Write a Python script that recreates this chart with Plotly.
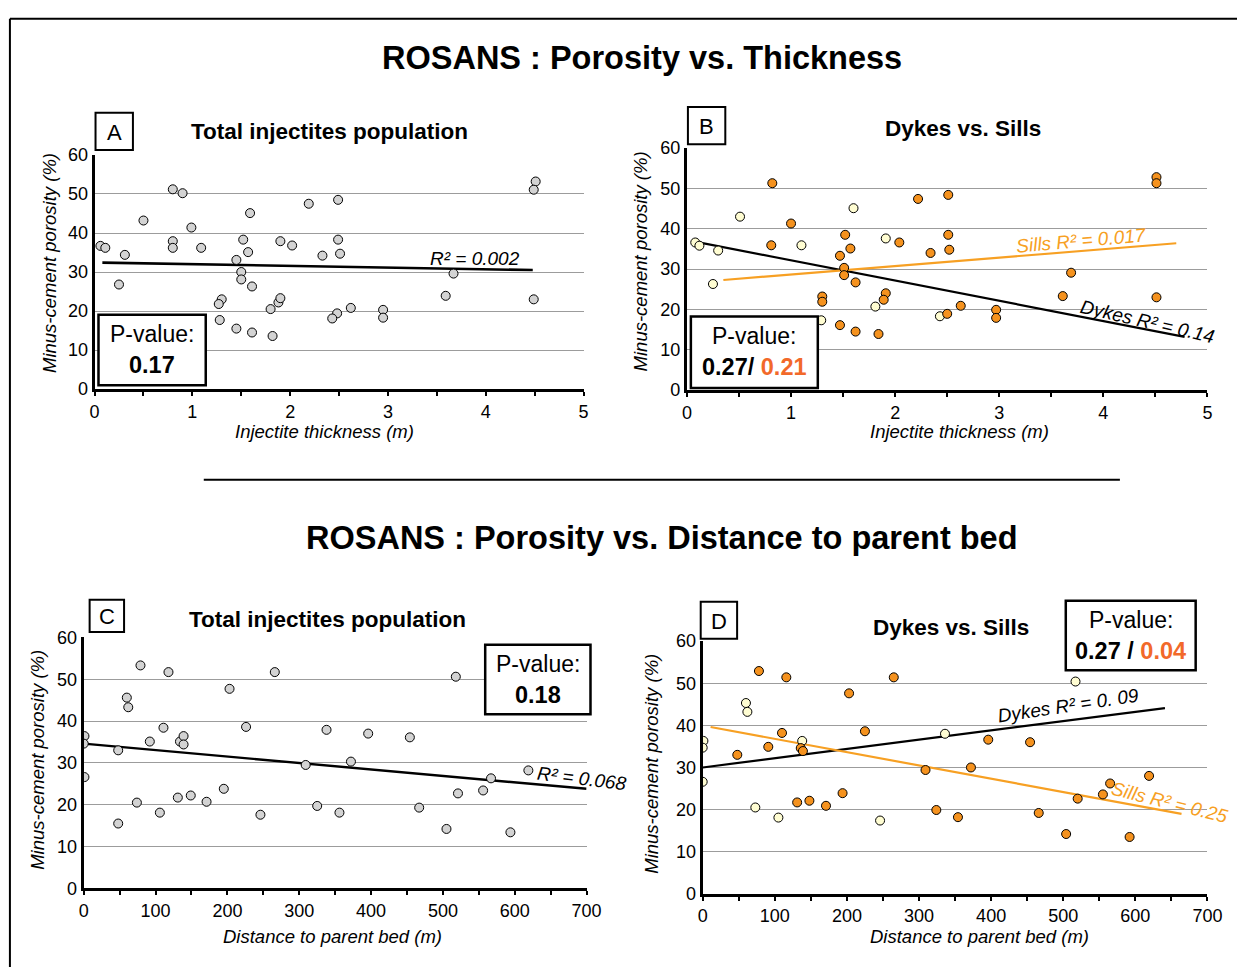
import plotly.graph_objects as go

# ---------------- data ----------------
# A: total injectite population, thickness (m) vs minus-cement porosity (%)
A_THICK = [0.06, 0.11, 0.31, 0.25, 0.50, 0.80, 0.90, 0.80, 0.80, 0.99, 1.09, 1.30, 1.27, 1.28,
           1.45, 1.50, 1.50, 1.52, 1.57, 1.59, 1.61, 1.45, 1.61, 1.80, 1.88, 1.90, 1.82, 1.90,
           2.02, 2.19, 2.49, 2.33, 2.49, 2.51, 2.48, 2.43, 2.62, 2.95, 2.95, 3.67, 3.59, 4.51,
           4.49, 4.49]
A_POR = [36.7, 36.2, 34.4, 26.8, 43.2, 51.2, 50.2, 37.9, 36.2, 41.4, 36.2, 23.0, 21.8, 17.7,
         33.1, 30.0, 28.1, 38.3, 35.1, 45.1, 26.3, 15.5, 14.5, 20.5, 22.2, 23.3, 13.6, 37.9,
         36.8, 47.5, 48.5, 34.2, 38.3, 34.7, 19.4, 18.1, 20.8, 20.3, 18.3, 29.6, 23.9, 53.2,
         51.1, 23.0]
A_TREND_X = [0.08, 4.48]
A_TREND_Y = [32.4, 30.5]

# B: dykes vs sills, thickness
B_DYKE_THICK = [0.08, 0.12, 0.30, 0.25, 0.51, 1.10, 1.29, 1.60, 1.91, 1.81, 2.43]
B_DYKE_POR = [36.6, 35.8, 34.6, 26.3, 43.0, 35.9, 17.3, 45.1, 37.6, 20.7, 18.3]
B_SILL_THICK = [0.82, 1.00, 0.81, 1.52, 1.57, 1.47, 1.51, 1.51, 1.62, 1.30, 1.30, 1.47, 1.62,
                1.84, 1.91, 1.89, 2.04, 2.22, 2.51, 2.34, 2.51, 2.52, 2.50, 2.63, 2.97, 2.97,
                3.69, 3.61, 4.51, 4.51, 4.51]
B_SILL_POR = [51.3, 41.3, 35.9, 38.5, 35.1, 33.3, 30.3, 28.5, 26.7, 23.2, 21.9, 16.1, 14.5,
              13.9, 24.0, 22.4, 36.6, 47.4, 48.4, 34.0, 38.5, 34.8, 18.9, 20.9, 19.9, 17.9,
              29.1, 23.3, 52.8, 51.3, 23.0]
B_DYKE_TREND_X = [0.076, 4.78]
B_DYKE_TREND_Y = [36.8, 13.2]
B_SILL_TREND_X = [0.35, 4.70]
B_SILL_TREND_Y = [27.3, 36.4]

# C: total injectite population, distance to parent bed (m)
C_DIST = [1, 0, 1, 48, 48, 60, 62, 79, 74, 92, 106, 111, 118, 131, 134, 139, 139, 149, 171,
          195, 203, 226, 246, 266, 309, 325, 338, 356, 372, 396, 454, 467, 505, 518, 521, 556,
          567, 594, 619]
C_POR = [36.4, 34.6, 26.6, 33.0, 15.5, 45.6, 43.3, 53.3, 20.5, 35.1, 18.1, 38.4, 51.7, 21.7,
         35.1, 36.4, 34.4, 22.2, 20.7, 23.8, 47.7, 38.6, 17.6, 51.7, 29.5, 19.7, 37.9, 18.1,
         30.3, 37.0, 36.1, 19.3, 14.2, 50.6, 22.7, 23.4, 26.3, 13.4, 28.2]
C_TREND_X = [0, 700]
C_TREND_Y = [34.6, 23.8]

# D: dykes vs sills, distance to parent bed
D_DYKE_DIST = [1, 0, 0, 60, 62, 73, 105, 138, 246, 336, 517]
D_DYKE_POR = [36.3, 34.7, 26.6, 45.3, 43.2, 20.5, 18.1, 36.3, 17.4, 38.0, 50.4]
D_SILL_DIST = [78, 116, 48, 91, 110, 136, 139, 131, 148, 171, 194, 203, 225, 265, 309, 324,
               354, 372, 396, 454, 466, 504, 520, 555, 565, 592, 619]
D_SILL_POR = [52.9, 51.4, 33.0, 34.9, 38.2, 34.6, 33.9, 21.7, 22.1, 20.9, 23.9, 47.6, 38.6,
              51.4, 29.4, 19.9, 18.2, 30.0, 36.6, 36.0, 19.2, 14.2, 22.6, 23.6, 26.2, 13.5,
              28.0]
D_DYKE_TREND_X = [0, 641]
D_DYKE_TREND_Y = [30.0, 44.1]
D_SILL_TREND_X = [11, 664]
D_SILL_TREND_Y = [39.6, 19.0]

Y_TICKS = [0, 10, 20, 30, 40, 50, 60]
THICK_TICKS = [0, 1, 2, 3, 4, 5]
DIST_TICKS = [0, 100, 200, 300, 400, 500, 600, 700]

# ---------------- styling ----------------
W, H = 1252, 977
FONT = "Arial, Liberation Sans, sans-serif"
GRAY = "#d3d3d3"
PALE = "#fffdd2"
ORANGE = "#f5921e"
SILL_LINE = "#f7a023"
PV_ORANGE = "#f2692a"
GRID = "#9c9c9c"


# layout positions below are given in pixels; convert to paper fractions
def fx(px):
    return px / W


def fy(py):
    return 1 - py / H


fig = go.Figure()


def marker(fill):
    return dict(size=9, color=fill, line=dict(color="black", width=1))


def pts(x, y, fill, ax):
    fig.add_trace(go.Scatter(x=x, y=y, mode="markers", marker=marker(fill),
                             xaxis="x" + ax, yaxis="y" + ax, showlegend=False,
                             hoverinfo="x+y"))


def trend(x, y, color, width, ax):
    fig.add_trace(go.Scatter(x=x, y=y, mode="lines", line=dict(color=color, width=width),
                             xaxis="x" + ax, yaxis="y" + ax, showlegend=False,
                             hoverinfo="skip"))


# panel A
trend(A_TREND_X, A_TREND_Y, "black", 2.6, "")
pts(A_THICK, A_POR, GRAY, "")
# panel B
trend(B_DYKE_TREND_X, B_DYKE_TREND_Y, "black", 2.2, "2")
trend(B_SILL_TREND_X, B_SILL_TREND_Y, SILL_LINE, 2.2, "2")
pts(B_DYKE_THICK, B_DYKE_POR, PALE, "2")
pts(B_SILL_THICK, B_SILL_POR, ORANGE, "2")
# panel C
trend(C_TREND_X, C_TREND_Y, "black", 2.4, "3")
pts(C_DIST, C_POR, GRAY, "3")
# panel D
trend(D_DYKE_TREND_X, D_DYKE_TREND_Y, "black", 2.2, "4")
trend(D_SILL_TREND_X, D_SILL_TREND_Y, SILL_LINE, 2.2, "4")
pts(D_DYKE_DIST, D_DYKE_POR, PALE, "4")
pts(D_SILL_DIST, D_SILL_POR, ORANGE, "4")

# panel frames in pixels: (left, right, bottom, top)
PANELS = {
    "": (91, 588, 387, 148),
    "2": (693, 1222, 388, 141),
    "3": (80, 591, 896.7, 640.5),
    "4": (709, 1222, 902.3, 644.3),
}

axes = {}
for key, (l, r, b, t) in PANELS.items():
    thick = key in ("", "2")
    ticks = THICK_TICKS if thick else DIST_TICKS
    xrange = [0, 5] if thick else [0, 700]
    minor = 0.5 if thick else 50
    axes["xaxis" + key] = dict(
        domain=[fx(l), fx(r)], range=xrange, anchor="y" + key,
        tickvals=ticks, ticktext=[str(v) for v in ticks],
        showgrid=False, zeroline=False, showline=True, linecolor="black", linewidth=3,
        ticks="outside", ticklen=4, tickwidth=2, tickcolor="black",
        minor=dict(dtick=minor, tick0=0, ticks="outside", ticklen=4, tickwidth=2,
                   tickcolor="black", showgrid=False),
        tickfont=dict(family=FONT, size=18, color="black"), fixedrange=True,
    )
    axes["yaxis" + key] = dict(
        domain=[fy(b), fy(t)], range=[0, 60], anchor="x" + key,
        tickvals=Y_TICKS, ticktext=[str(v) for v in Y_TICKS],
        showgrid=True, gridcolor=GRID, gridwidth=1, zeroline=False,
        showline=True, linecolor="black", linewidth=3, ticks="",
        tickfont=dict(family=FONT, size=18, color="black"), fixedrange=True,
    )

shapes = []
annotations = []


def text(x, y, s, size, bold=False, italic=False, color="black", angle=0, ref=None):
    if bold:
        s = "<b>" + s + "</b>"
    if italic:
        s = "<i>" + s + "</i>"
    a = dict(text=s, showarrow=False, textangle=angle, xanchor="center", yanchor="middle",
             font=dict(family=FONT, size=size, color=color))
    if ref is None:
        a.update(x=fx(x), y=fy(y), xref="paper", yref="paper")
    else:
        a.update(x=x, y=y, xref="x" + ref, yref="y" + ref)
    annotations.append(a)


def box(l, t, r, b, width=2):
    shapes.append(dict(type="rect", xref="paper", yref="paper", x0=fx(l), x1=fx(r),
                       y0=fy(b), y1=fy(t), line=dict(color="black", width=width),
                       fillcolor="white", layer="above"))


def hline(x0, x1, y, width=2):
    shapes.append(dict(type="line", xref="paper", yref="paper", x0=fx(x0), x1=fx(x1),
                       y0=fy(y), y1=fy(y), line=dict(color="black", width=width)))


def vline(x, y0, y1, width=2):
    shapes.append(dict(type="line", xref="paper", yref="paper", x0=fx(x), x1=fx(x),
                       y0=fy(y0), y1=fy(y1), line=dict(color="black", width=width)))


# outer frame (top and left edges) and the separator between the two sections
hline(5, W, 9)
vline(5, 9, H)
hline(202, 1133, 479.5)

# section titles
text(647, 49, "ROSANS : Porosity vs. Thickness", 32.5, bold=True)
text(668, 539, "ROSANS : Porosity vs. Distance to parent bed", 32.5, bold=True)

# panel titles
text(330, 124, "Total injectites population", 22.5, bold=True)
text(974, 121, "Dykes vs. Sills", 22.5, bold=True)
text(328, 622, "Total injectites population", 22.5, bold=True)
text(961, 630, "Dykes vs. Sills", 22.5, bold=True)

# panel letters
for (l, t, r, b), letter in [((92, 105, 130, 143), "A"), ((694, 99, 732, 137), "B"),
                             ((86, 602, 121, 635), "C"), ((707, 604, 744, 642), "D")]:
    box(l, t, r, b, 2)
    text((l + r) / 2, (t + b) / 2 + 1, letter, 22)

# axis titles
for xc, yc in [(325, 430), (970, 430)]:
    text(xc, yc, "Injectite thickness (m)", 18.5, italic=True)
for xc, yc in [(333, 946), (990, 946)]:
    text(xc, yc, "Distance to parent bed (m)", 18.5, italic=True)
for xc, yc in [(45, 258), (646, 257), (33, 765), (657, 770)]:
    text(xc, yc, "Minus-cement porosity (%)", 18.5, italic=True, angle=-90)

# regression labels
text(3.89, 33.4, "R² = 0.002", 19, italic=True, ref="")
text(3.79, 37.2, "Sills R² = 0.017", 19, italic=True, color=SILL_LINE, angle=-5, ref="2")
text(4.42, 17.0, "Dykes R² = 0.14", 19, italic=True, angle=13, ref="2")
text(693, 26.2, "R² = 0.068", 19, italic=True, angle=7, ref="3")
text(507, 44.8, "Dykes R² = 0. 09", 19, italic=True, angle=-8.5, ref="4")
text(648, 21.7, "Sills R² = 0.25", 19, italic=True, color=SILL_LINE, angle=14, ref="4")

# P-value boxes
pv = [
    ((95, 311, 204, 383), "0.17", None),
    ((697, 313, 826, 386), "0.27/ ", "0.21"),
    ((488, 648, 595, 719), "0.18", None),
    ((1078, 603, 1210, 674), "0.27 / ", "0.04"),
]
for (l, t, r, b), first, second in pv:
    box(l, t, r, b, 2.5)
    cx = (l + r) / 2
    text(cx, t + 20, "P-value:", 23)
    s = first if second is None else first + "<span style='color:%s'>%s</span>" % (PV_ORANGE, second)
    text(cx, t + 51, s, 23.5, bold=True)

fig.update_layout(
    width=W, height=H, margin=dict(l=0, r=0, t=0, b=0),
    paper_bgcolor="white", plot_bgcolor="rgba(0,0,0,0)",
    font=dict(family=FONT, color="black"),
    shapes=shapes, annotations=annotations, showlegend=False, **axes,
)

fig.write_html("out.html")
